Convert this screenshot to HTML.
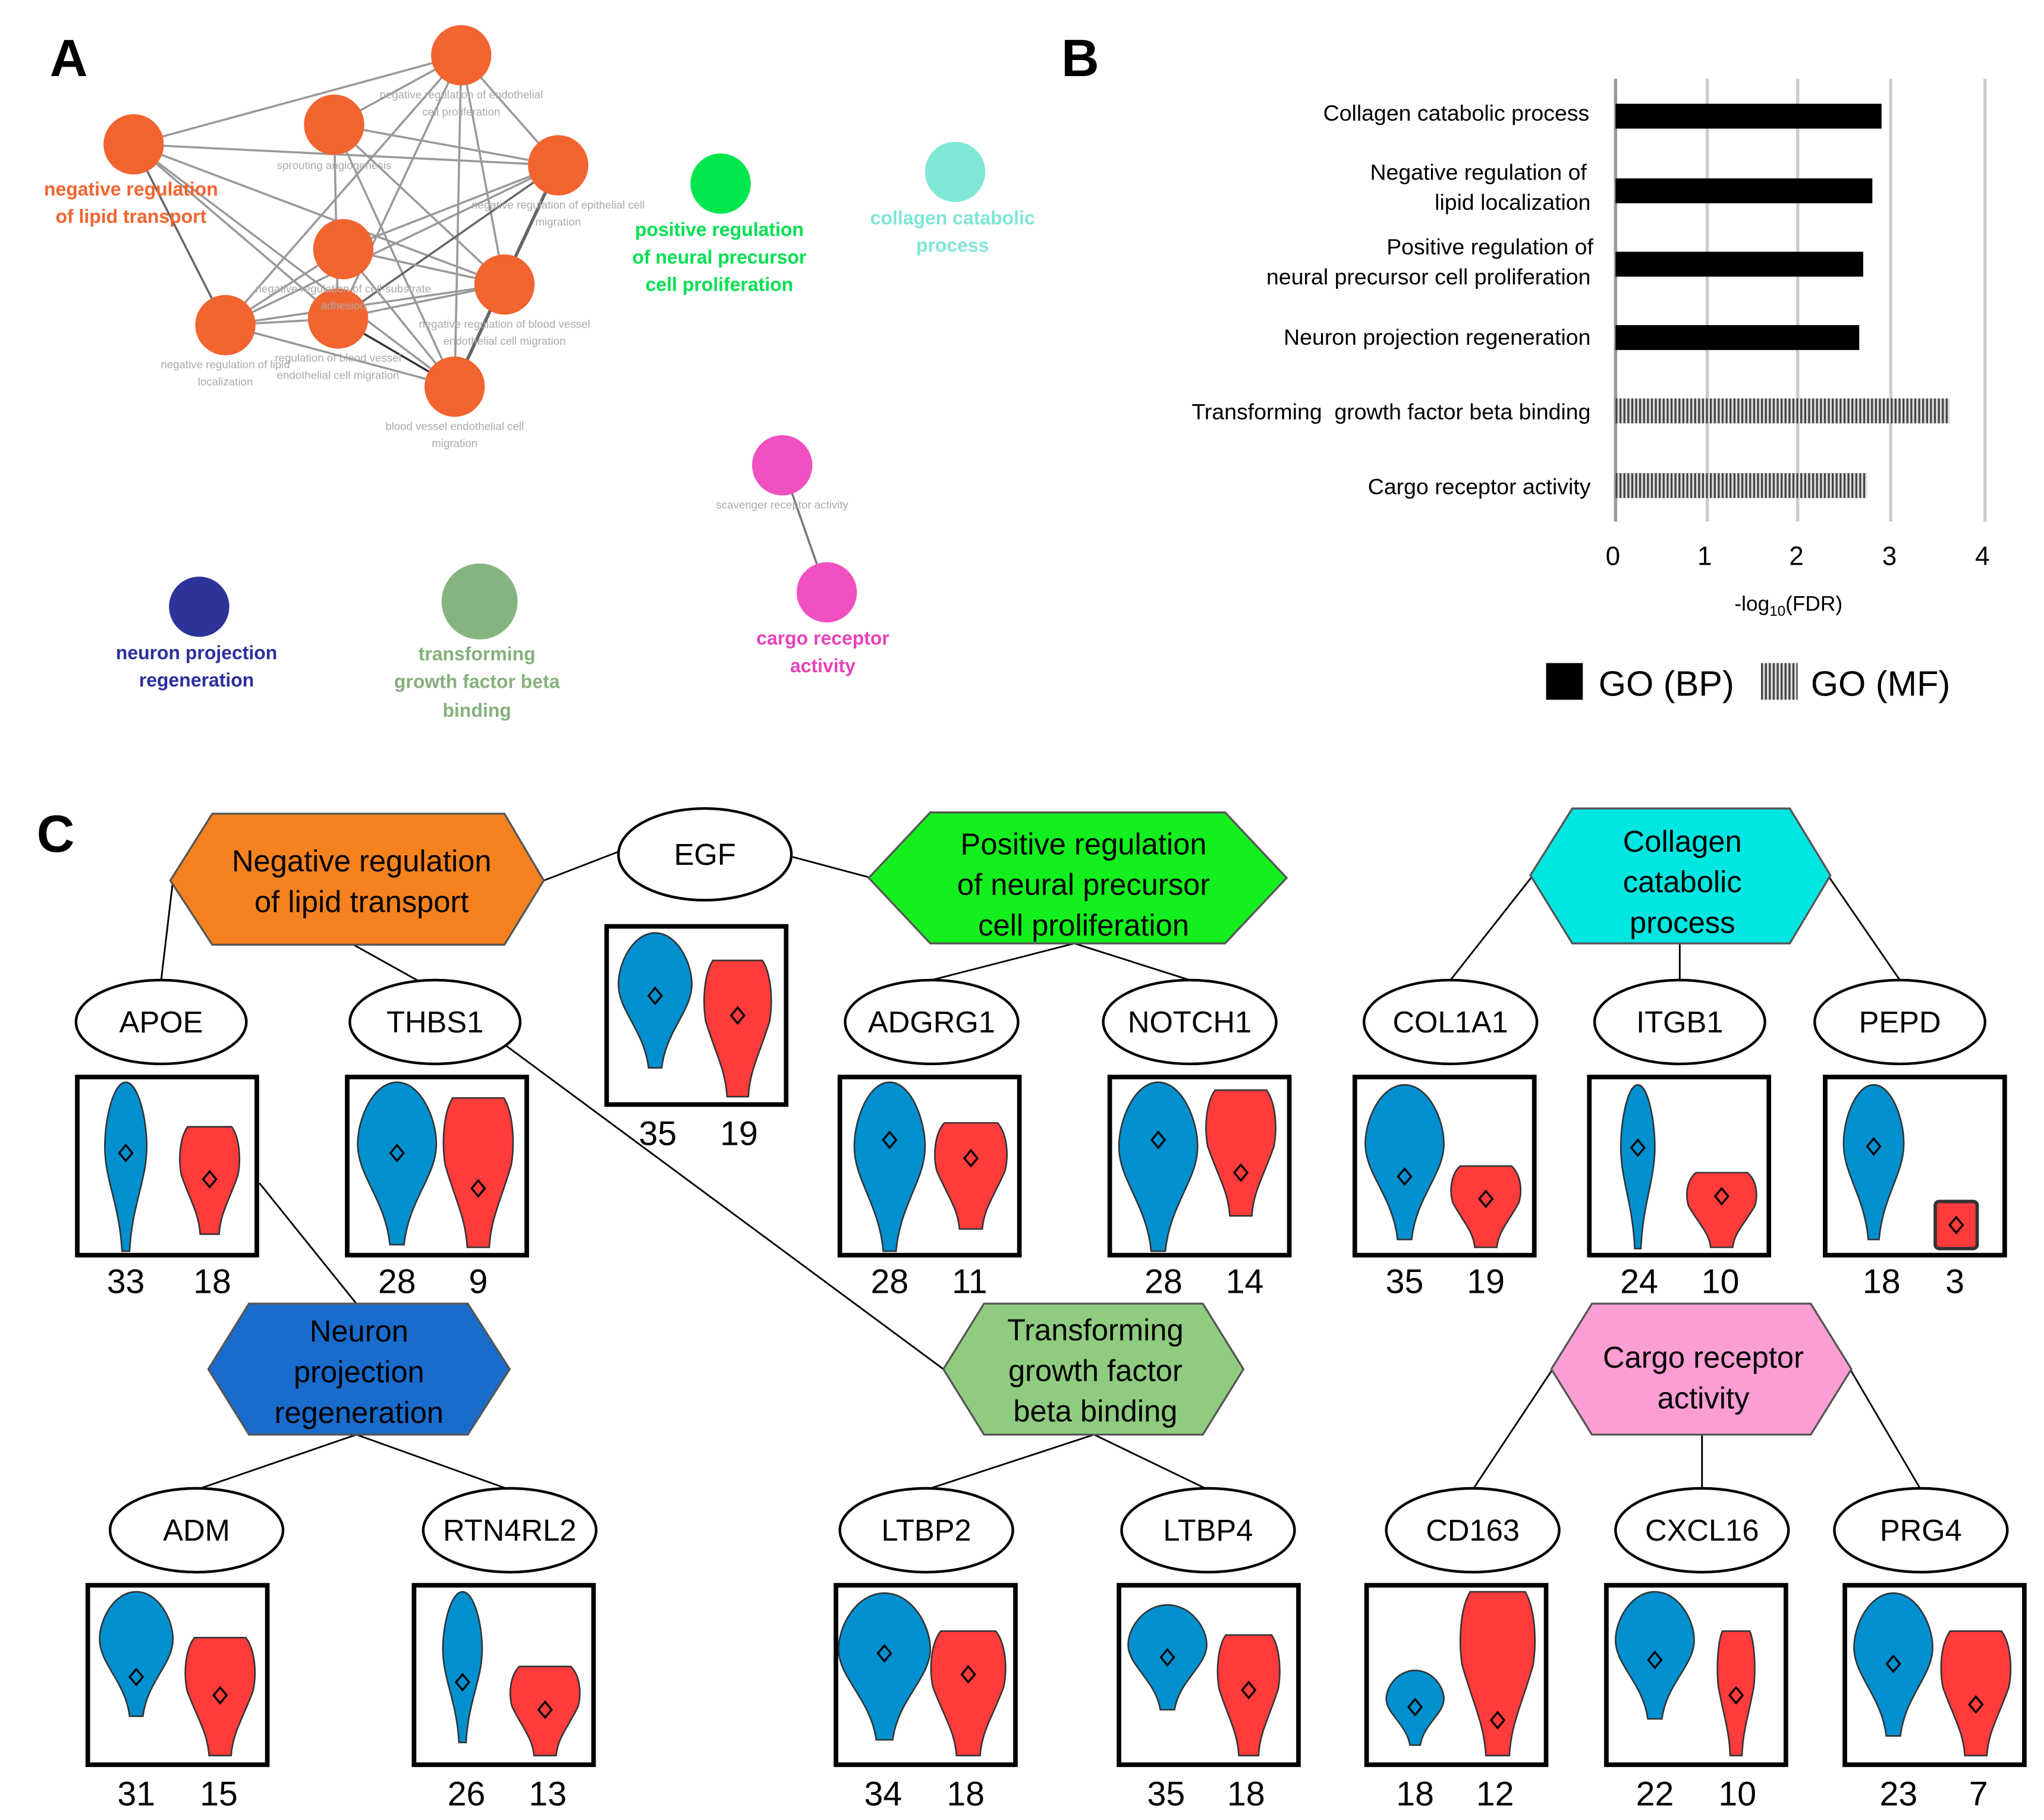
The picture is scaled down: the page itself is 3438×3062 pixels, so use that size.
<!DOCTYPE html>
<html><head><meta charset="utf-8"><style>
html,body{margin:0;padding:0;background:#fff}
svg{display:block}
text{font-family:"Liberation Sans",Arial,sans-serif}
.g{fill:#aaa;font-size:8.5px}
.bl{fill:#0090cf;stroke:#333;stroke-width:2.6}
.rd{fill:#ff3b3b;stroke:#333;stroke-width:2.6}
.bx{fill:#fff;stroke:#000;stroke-width:3.5}
.el{fill:#fff;stroke:#000;stroke-width:2}
.gn{font-size:23px;text-anchor:middle}
.nm{font-size:26px;text-anchor:middle}
.hx{font-size:23px;text-anchor:middle}
.cl{stroke:#000;stroke-width:1.3}
.ed{stroke:#999;stroke-width:1.6}
.dm{fill:none;stroke:#000;stroke-width:1.5}
</style></head><body>
<svg width="3438" height="3062" viewBox="0 0 1560 1389" xmlns="http://www.w3.org/2000/svg">
<defs>
<path id="vb" d="M0,0 C0.6,0 1,0.22 1,0.38 C1,0.58 0.3,0.72 0.18,1 L-0.18,1 C-0.3,0.72 -1,0.58 -1,0.38 C-1,0.22 -0.6,0 0,0Z" vector-effect="non-scaling-stroke"/>
<path id="vr" d="M-0.7,0 L0.7,0 C0.95,0.1 1,0.3 0.9,0.45 C0.6,0.7 0.35,0.8 0.3,1 L-0.3,1 C-0.35,0.8 -0.6,0.7 -0.9,0.45 C-1,0.3 -0.95,0.1 -0.7,0Z" vector-effect="non-scaling-stroke"/>
<path id="dd" d="M0,-6 L5,0 L0,6 L-5,0Z"/>
<pattern id="st" width="3" height="4" patternUnits="userSpaceOnUse"><rect width="3" height="4" fill="#ddd"/><rect width="1.5" height="4" fill="#444"/></pattern>
</defs>

<text x="38" y="58" font-size="40" font-weight="bold">A</text>
<g class="ed">
<line x1="102" y1="110" x2="352" y2="42"/><line x1="102" y1="110" x2="426" y2="126"/><line x1="102" y1="110" x2="385" y2="217"/><line x1="102" y1="110" x2="172" y2="248" stroke="#666"/><line x1="102" y1="110" x2="258" y2="243"/><line x1="102" y1="110" x2="347" y2="295"/>
<line x1="255" y1="95" x2="352" y2="42"/><line x1="255" y1="95" x2="426" y2="126"/><line x1="255" y1="95" x2="258" y2="243"/><line x1="255" y1="95" x2="385" y2="217"/><line x1="255" y1="95" x2="347" y2="295"/>
<line x1="352" y1="42" x2="426" y2="126"/><line x1="352" y1="42" x2="172" y2="248"/><line x1="352" y1="42" x2="258" y2="243"/><line x1="352" y1="42" x2="385" y2="217"/><line x1="352" y1="42" x2="347" y2="295"/>
<line x1="426" y1="126" x2="262" y2="190"/><line x1="426" y1="126" x2="172" y2="248"/><line x1="426" y1="126" x2="258" y2="243" stroke="#666"/><line x1="426" y1="126" x2="347" y2="295" stroke="#666" stroke-width="2.5"/>
<line x1="262" y1="190" x2="385" y2="217"/><line x1="262" y1="190" x2="347" y2="295"/><line x1="262" y1="190" x2="172" y2="248"/>
<line x1="172" y1="248" x2="385" y2="217"/><line x1="172" y1="248" x2="258" y2="243"/><line x1="172" y1="248" x2="347" y2="295"/>
<line x1="258" y1="243" x2="385" y2="217"/><line x1="258" y1="243" x2="347" y2="295" stroke="#333"/>
<line x1="597" y1="355" x2="631" y2="452" stroke="#777"/>
</g>
<g fill="#f26430">
<circle cx="352" cy="42" r="23"/><circle cx="102" cy="110" r="23"/><circle cx="255" cy="95" r="23"/><circle cx="426" cy="126" r="23"/><circle cx="262" cy="190" r="23"/><circle cx="385" cy="217" r="23"/><circle cx="172" cy="248" r="23"/><circle cx="258" cy="243" r="23"/><circle cx="347" cy="295" r="23"/>
</g>
<g class="g" text-anchor="middle">
<text x="352" y="75">negative regulation of endothelial</text><text x="352" y="88">cell proliferation</text>
<text x="255" y="129">sprouting angiogenesis</text>
<text x="426" y="159">negative regulation of epithelial cell</text><text x="426" y="172">migration</text>
<text x="262" y="223">negative regulation of cell-substrate</text><text x="262" y="236">adhesion</text>
<text x="385" y="250">negative regulation of blood vessel</text><text x="385" y="263">endothelial cell migration</text>
<text x="172" y="281">negative regulation of lipid</text><text x="172" y="294">localization</text>
<text x="258" y="276">regulation of blood vessel</text><text x="258" y="289">endothelial cell migration</text>
<text x="347" y="328">blood vessel endothelial cell</text><text x="347" y="341">migration</text>
<text x="597" y="388">scavenger receptor activity</text>
</g>
<g font-weight="bold" font-size="14.5" text-anchor="middle">
<text x="100" y="149" fill="#f26430">negative regulation</text><text x="100" y="170" fill="#f26430">of lipid transport</text>
<text x="549" y="180" fill="#00e050">positive regulation</text><text x="549" y="201" fill="#00e050">of neural precursor</text><text x="549" y="222" fill="#00e050">cell proliferation</text>
<text x="727" y="171" fill="#7fe6d4">collagen catabolic</text><text x="727" y="192" fill="#7fe6d4">process</text>
<text x="150" y="503" fill="#2b2f9e">neuron projection</text><text x="150" y="524" fill="#2b2f9e">regeneration</text>
<text x="364" y="504" fill="#86b07c">transforming</text><text x="364" y="525" fill="#86b07c">growth factor beta</text><text x="364" y="547" fill="#86b07c">binding</text>
<text x="628" y="492" fill="#e842b8">cargo receptor</text><text x="628" y="513" fill="#e842b8">activity</text>
</g>
<circle cx="550" cy="140" r="23" fill="#00e64d"/>
<circle cx="729" cy="131" r="23" fill="#80e8d6"/>
<circle cx="597" cy="355" r="23" fill="#f050c0"/>
<circle cx="631" cy="452" r="23" fill="#f050c0"/>
<circle cx="152" cy="463" r="23" fill="#2e3399"/>
<circle cx="366" cy="459" r="29" fill="#86b480"/>

<text x="810" y="58" font-size="40" font-weight="bold">B</text>
<g stroke="#ccc" stroke-width="2.5">
<line x1="1233" y1="60" x2="1233" y2="398" stroke="#999"/><line x1="1303" y1="60" x2="1303" y2="398"/><line x1="1372" y1="60" x2="1372" y2="398"/><line x1="1443" y1="60" x2="1443" y2="398"/><line x1="1515" y1="60" x2="1515" y2="398"/>
</g>
<rect x="1233" y="79" width="203" height="19" fill="#000"/>
<rect x="1233" y="136" width="196" height="19" fill="#000"/>
<rect x="1233" y="192" width="189" height="19" fill="#000"/>
<rect x="1233" y="248" width="186" height="19" fill="#000"/>
<rect x="1233" y="304" width="255" height="19" fill="url(#st)"/>
<rect x="1233" y="361" width="192" height="19" fill="url(#st)"/>
<g font-size="17" text-anchor="end">
<text x="1213" y="92">Collagen catabolic process</text>
<text x="1211" y="137">Negative regulation of</text><text x="1214" y="160">lipid localization</text>
<text x="1216" y="194">Positive regulation of</text><text x="1214" y="217">neural precursor cell proliferation</text>
<text x="1214" y="263">Neuron projection regeneration</text>
<text x="1214" y="320">Transforming&#160; growth factor beta binding</text>
<text x="1214" y="377">Cargo receptor activity</text>
</g>
<g font-size="20" text-anchor="middle">
<text x="1231" y="431">0</text><text x="1301" y="431">1</text><text x="1371" y="431">2</text><text x="1442" y="431">3</text><text x="1513" y="431">4</text>
</g>
<text x="1365" y="466" font-size="16" text-anchor="middle">-log<tspan font-size="11" dy="4">10</tspan><tspan dy="-4">(FDR)</tspan></text>
<rect x="1180" y="506" width="28" height="28" fill="#000"/>
<text x="1220" y="531" font-size="27">GO (BP)</text>
<rect x="1344" y="506" width="28" height="28" fill="url(#st)"/>
<text x="1382" y="531" font-size="27">GO (MF)</text>

<text x="28" y="650" font-size="40" font-weight="bold">C</text>
<g class="cl">
<line x1="132" y1="672" x2="123" y2="748"/><line x1="268" y1="720" x2="320" y2="749"/><line x1="415" y1="672" x2="472" y2="650"/><line x1="605" y1="654" x2="665" y2="670"/>
<line x1="820" y1="720" x2="711" y2="748"/><line x1="820" y1="720" x2="908" y2="748"/>
<line x1="1170" y1="668" x2="1107" y2="748"/><line x1="1282" y1="720" x2="1282" y2="748"/><line x1="1395" y1="668" x2="1450" y2="748"/>
<line x1="198" y1="903" x2="272" y2="995"/><line x1="378" y1="792" x2="720" y2="1045"/>
<line x1="272" y1="1095" x2="150" y2="1137"/><line x1="272" y1="1095" x2="389" y2="1137"/>
<line x1="835" y1="1095" x2="707" y2="1137"/><line x1="835" y1="1095" x2="922" y2="1137"/>
<line x1="1185" y1="1045" x2="1124" y2="1137"/><line x1="1299" y1="1095" x2="1299" y2="1137"/><line x1="1412" y1="1045" x2="1466" y2="1137"/>
</g>
<g stroke="#555" stroke-width="1.5">
<polygon points="130,672 162,621 385,621 415,672 385,721 162,721" fill="#f5821f"/>
<polygon points="663,670 710,620 935,620 982,670 935,720 710,720" fill="#14f01e"/>
<polygon points="1168,668 1200,617 1366,617 1397,668 1366,720 1200,720" fill="#00e6e0"/>
<polygon points="159,1045 190,995 357,995 389,1045 357,1095 190,1095" fill="#1a6ccc"/>
<polygon points="720,1045 751,995 918,995 949,1045 918,1095 751,1095" fill="#90cc80"/>
<polygon points="1184,1045 1215,995 1382,995 1413,1045 1382,1095 1215,1095" fill="#fb9ed3"/>
</g>
<g class="hx">
<text x="276" y="665">Negative regulation</text><text x="276" y="696">of lipid transport</text>
<text x="827" y="652">Positive regulation</text><text x="827" y="683">of neural precursor</text><text x="827" y="714">cell proliferation</text>
<text x="1284" y="650">Collagen</text><text x="1284" y="681">catabolic</text><text x="1284" y="712">process</text>
<text x="274" y="1024">Neuron</text><text x="274" y="1055">projection</text><text x="274" y="1086">regeneration</text>
<text x="836" y="1023">Transforming</text><text x="836" y="1054">growth factor</text><text x="836" y="1085">beta binding</text>
<text x="1300" y="1044">Cargo receptor</text><text x="1300" y="1075">activity</text>
</g>
<g>
<ellipse class="el" cx="123" cy="780" rx="65" ry="32"/><ellipse class="el" cx="332" cy="780" rx="65" ry="32"/><ellipse class="el" cx="538" cy="652" rx="66" ry="35"/>
<ellipse class="el" cx="711" cy="780" rx="66" ry="32"/><ellipse class="el" cx="908" cy="780" rx="66" ry="32"/><ellipse class="el" cx="1107" cy="780" rx="66" ry="32"/>
<ellipse class="el" cx="1282" cy="780" rx="65" ry="32"/><ellipse class="el" cx="1450" cy="780" rx="65" ry="32"/>
<ellipse class="el" cx="150" cy="1168" rx="66" ry="32"/><ellipse class="el" cx="389" cy="1168" rx="66" ry="32"/><ellipse class="el" cx="707" cy="1168" rx="66" ry="32"/>
<ellipse class="el" cx="922" cy="1168" rx="66" ry="32"/><ellipse class="el" cx="1124" cy="1168" rx="66" ry="32"/><ellipse class="el" cx="1299" cy="1168" rx="66" ry="32"/><ellipse class="el" cx="1466" cy="1168" rx="66" ry="32"/>
</g>
<g class="gn">
<text x="123" y="788">APOE</text><text x="332" y="788">THBS1</text><text x="538" y="660">EGF</text><text x="711" y="788">ADGRG1</text><text x="908" y="788">NOTCH1</text>
<text x="1107" y="788">COL1A1</text><text x="1282" y="788">ITGB1</text><text x="1450" y="788">PEPD</text>
<text x="150" y="1176">ADM</text><text x="389" y="1176">RTN4RL2</text><text x="707" y="1176">LTBP2</text><text x="922" y="1176">LTBP4</text>
<text x="1124" y="1176">CD163</text><text x="1299" y="1176">CXCL16</text><text x="1466" y="1176">PRG4</text>
</g>
<g class="bx">
<rect x="59" y="822" width="137" height="136"/><rect x="265" y="822" width="137" height="136"/><rect x="463" y="707" width="137" height="136"/>
<rect x="641" y="822" width="137" height="136"/><rect x="847" y="822" width="137" height="136"/><rect x="1034" y="822" width="137" height="136"/>
<rect x="1213" y="822" width="137" height="136"/><rect x="1393" y="822" width="137" height="136"/>
<rect x="67" y="1210" width="137" height="137"/><rect x="316" y="1210" width="137" height="137"/><rect x="638" y="1210" width="137" height="137"/>
<rect x="854" y="1210" width="137" height="137"/><rect x="1043" y="1210" width="137" height="137"/><rect x="1226" y="1210" width="137" height="137"/><rect x="1408" y="1210" width="137" height="137"/>
</g>
<g>
<use href="#vb" class="bl" transform="translate(96,826) scale(16,129)"/><use href="#vr" class="rd" transform="translate(160,860) scale(24,82)"/>
<use href="#vb" class="bl" transform="translate(303,826) scale(30,124)"/><use href="#vr" class="rd" transform="translate(365,838) scale(28,114)"/>
<use href="#vb" class="bl" transform="translate(500,712) scale(28,103)"/><use href="#vr" class="rd" transform="translate(563,733) scale(27,104)"/>
<use href="#vb" class="bl" transform="translate(679,826) scale(27,129)"/><use href="#vr" class="rd" transform="translate(741,857) scale(29,81)"/>
<use href="#vb" class="bl" transform="translate(884,826) scale(30,129)"/><use href="#vr" class="rd" transform="translate(947,832) scale(28,96)"/>
<use href="#vb" class="bl" transform="translate(1072,828) scale(30,118)"/><use href="#vr" class="rd" transform="translate(1134,890) scale(28,62)"/>
<use href="#vb" class="bl" transform="translate(1250,828) scale(13,125)"/><use href="#vr" class="rd" transform="translate(1314,895) scale(28,57)"/>
<use href="#vb" class="bl" transform="translate(1430,828) scale(23,118)"/><rect x="1477" y="917" width="32" height="36" rx="3" class="rd"/>
<use href="#vb" class="bl" transform="translate(104,1215) scale(28,95)"/><use href="#vr" class="rd" transform="translate(168,1250) scale(28,90)"/>
<use href="#vb" class="bl" transform="translate(353,1215) scale(15,115)"/><use href="#vr" class="rd" transform="translate(416,1272) scale(28,68)"/>
<use href="#vb" class="bl" transform="translate(675,1216) scale(35,112)"/><use href="#vr" class="rd" transform="translate(739,1245) scale(30,95)"/>
<use href="#vb" class="bl" transform="translate(891,1225) scale(30,80)"/><use href="#vr" class="rd" transform="translate(953,1248) scale(25,92)"/>
<use href="#vb" class="bl" transform="translate(1080,1275) scale(22,57)"/><use href="#vr" class="rd" transform="translate(1143,1215) scale(30,125)"/>
<use href="#vb" class="bl" transform="translate(1263,1215) scale(30,97)"/><use href="#vr" class="rd" transform="translate(1325,1245) scale(15,95)"/>
<use href="#vb" class="bl" transform="translate(1445,1216) scale(30,109)"/><use href="#vr" class="rd" transform="translate(1508,1245) scale(28,95)"/>
</g>
<g class="dm">
<use href="#dd" x="96" y="880"/><use href="#dd" x="160" y="900"/><use href="#dd" x="303" y="880"/><use href="#dd" x="365" y="907"/>
<use href="#dd" x="500" y="760"/><use href="#dd" x="563" y="775"/><use href="#dd" x="679" y="870"/><use href="#dd" x="741" y="884"/>
<use href="#dd" x="884" y="870"/><use href="#dd" x="947" y="895"/><use href="#dd" x="1072" y="898"/><use href="#dd" x="1134" y="915"/>
<use href="#dd" x="1250" y="876"/><use href="#dd" x="1314" y="913"/><use href="#dd" x="1430" y="875"/><use href="#dd" x="1493" y="935"/>
<use href="#dd" x="104" y="1280"/><use href="#dd" x="168" y="1294"/><use href="#dd" x="353" y="1284"/><use href="#dd" x="416" y="1305"/>
<use href="#dd" x="675" y="1262"/><use href="#dd" x="739" y="1278"/><use href="#dd" x="891" y="1265"/><use href="#dd" x="953" y="1290"/>
<use href="#dd" x="1080" y="1303"/><use href="#dd" x="1143" y="1313"/><use href="#dd" x="1263" y="1267"/><use href="#dd" x="1325" y="1294"/>
<use href="#dd" x="1445" y="1270"/><use href="#dd" x="1508" y="1301"/>
</g>
<g class="nm">
<text x="96" y="987">33</text><text x="162" y="987">18</text><text x="303" y="987">28</text><text x="365" y="987">9</text>
<text x="502" y="874">35</text><text x="564" y="874">19</text>
<text x="679" y="987">28</text><text x="740" y="987">11</text><text x="888" y="987">28</text><text x="950" y="987">14</text>
<text x="1072" y="987">35</text><text x="1134" y="987">19</text><text x="1251" y="987">24</text><text x="1313" y="987">10</text>
<text x="1436" y="987">18</text><text x="1492" y="987">3</text>
<text x="104" y="1378">31</text><text x="167" y="1378">15</text><text x="356" y="1378">26</text><text x="418" y="1378">13</text>
<text x="674" y="1378">34</text><text x="737" y="1378">18</text><text x="890" y="1378">35</text><text x="951" y="1378">18</text>
<text x="1080" y="1378">18</text><text x="1141" y="1378">12</text><text x="1263" y="1378">22</text><text x="1326" y="1378">10</text>
<text x="1449" y="1378">23</text><text x="1510" y="1378">7</text>
</g>
</svg>
</body></html>
